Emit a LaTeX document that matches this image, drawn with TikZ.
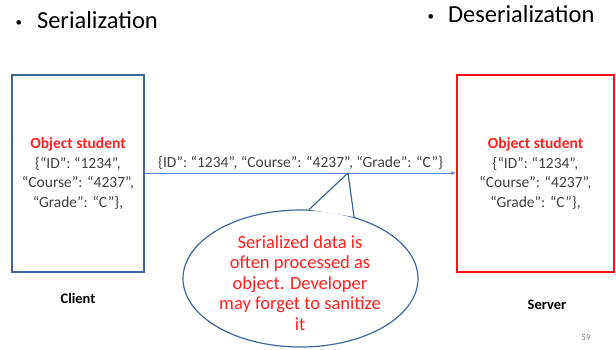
\documentclass[tikz,border=0pt]{standalone}
\usepackage{fontspec}
\setmainfont{Carlito}
\usetikzlibrary{arrows.meta, positioning, shapes.geometric}
\definecolor{bordeCliente}{HTML}{41679A}
\definecolor{bordeServidor}{HTML}{FF1010}
\definecolor{flechaAzul}{HTML}{5B8BD0}
\definecolor{textoGris}{HTML}{404040}
\definecolor{rojoTexto}{HTML}{FF2020}

\begin{document}
\begin{tikzpicture}[
  x=1pt, y=-1pt,
  font=\fontsize{15.5}{19.5}\selectfont,
  caja/.style={draw, line width=1.6pt, minimum width=132pt, minimum height=197pt,
               align=center, inner sep=2pt, text=textoGris},
  flecha/.style={-{Latex[length=5pt,width=4pt]}, draw=flechaAzul, line width=0.8pt},
  titulo/.style={font=\fontsize{24.5}{28}\selectfont, anchor=west, text=black},
  etiqueta/.style={font=\bfseries\fontsize{14.5}{17}\selectfont, text=black},
  globo/.style={draw=bordeCliente, line width=1.2pt, fill=white, ellipse,
                minimum width=235pt, minimum height=137pt, inner sep=0pt}
]
\useasboundingbox (0,0) rectangle (616,349);

% Encabezados de cada lado.
\node[titulo] (tser) at (12,20) {\raisebox{2pt}{\fontsize{13}{13}\selectfont•}\hspace{15pt}Serialization};
\node[titulo] (tdes) at (424,14) {\raisebox{2pt}{\fontsize{13}{13}\selectfont•}\hspace{14pt}Deserialization};

\node[caja, draw=bordeCliente] (cliente) at (78,173.5)
  {\textcolor{rojoTexto}{\bfseries Object student}\\
   \{“ID”: “1234”,\\ “Course”: “4237”,\\ “Grade”: “C”\},};
\node[caja, draw=bordeServidor, line width=1.3pt, minimum width=157pt] (servidor) at (535.5,173.5)
  {\textcolor{rojoTexto}{\bfseries Object student}\\
   \{“ID”: “1234”,\\ “Course”: “4237”,\\ “Grade”: “C”\},};

\node[etiqueta] (lcliente) at (78,298) {Client};
\node[etiqueta] (lservidor) at (547,305) {Server};

\draw[flecha] (cliente.east |- 0,173) -- node[above=0pt, text=textoGris]
  {\{ID”: “1234”, “Course”: “4237”, “Grade”: “C”\}} (servidor.west |- 0,173);

% Globo con la advertencia, apuntando al dato que viaja.
\coordinate (punta) at (348,173);
\node[globo] (globo) at (300.5,278.5) {};
\fill[white] (globo.83) -- (punta) -- (globo.49) -- cycle;
\draw[bordeCliente, line width=1.2pt, line join=round] (globo.83) -- (punta) -- (globo.49);
\node[align=center, text=rojoTexto, font=\fontsize{18.5}{20.5}\selectfont] (aviso) at (300,283)
  {Serialized data is\\ often processed as\\ object. Developer\\ may forget to sanitize\\ it};

\node[font=\fontsize{9}{11}\selectfont, text=gray] (pagina) at (586,338) {59};
\end{tikzpicture}
\end{document}
